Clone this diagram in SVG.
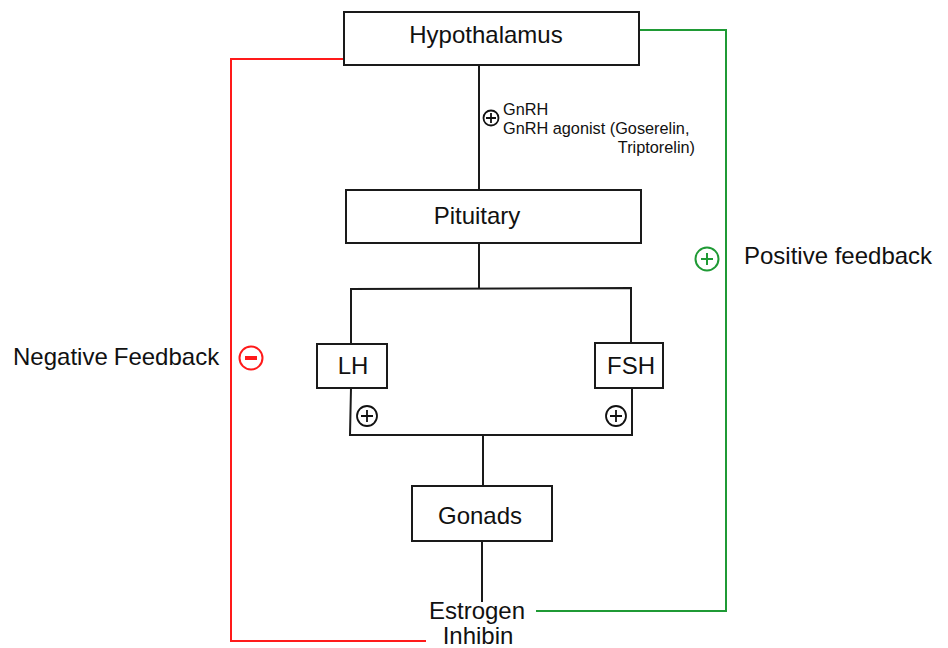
<svg xmlns="http://www.w3.org/2000/svg" width="948" height="648" viewBox="0 0 948 648">
<style>
.box{fill:#fff;stroke:#1a1a1a;stroke-width:2}
.ln{fill:none;stroke:#1a1a1a;stroke-width:2}
.red{fill:none;stroke:#ff1a1a;stroke-width:2}
.grn{fill:none;stroke:#1f9a35;stroke-width:2}
.t{font-family:"Liberation Sans",Arial,sans-serif;font-size:24px;fill:#111;text-anchor:middle}
.l{font-family:"Liberation Sans",Arial,sans-serif;font-size:24px;fill:#111;text-anchor:start}
.s{font-family:"Liberation Sans",Arial,sans-serif;font-size:16.3px;fill:#111}
.e{text-anchor:end}
</style>
<rect width="948" height="648" fill="#fff"/>
<g id="connectors">
<path class="ln" d="M479 65 V190"/>
<path class="ln" d="M479 243 V288"/>
<path class="ln" d="M351 344 V289 L631 288 V343"/>
<path class="ln" d="M351 388 L350 435 H632 V388"/>
<path class="ln" d="M483 435 V486"/>
<path class="ln" d="M482 541 V602"/>
<path class="red" d="M343 59 H231 V641 H426"/>
<path class="grn" d="M639 30 H726 V611 H536"/>
</g>
<g id="gnrh-label">
<circle cx="491" cy="118" r="7.5" fill="none" stroke="#111" stroke-width="1.8"/>
<path d="M486 118 H496 M491 113 V123" stroke="#111" stroke-width="1.8"/>
<text class="s" x="503" y="115">GnRH</text>
<text class="s" x="503" y="134">GnRH agonist (Goserelin,</text>
<text class="s e" x="695" y="153">Triptorelin)</text>
</g>
<g id="hypothalamus">
<rect class="box" x="344" y="12" width="295" height="53"/>
<text class="t" x="486" y="43">Hypothalamus</text>
</g>
<g id="pituitary">
<rect class="box" x="346" y="190" width="295" height="53"/>
<text class="t" x="477" y="224">Pituitary</text>
</g>
<g id="lh">
<rect class="box" x="317" y="344" width="70" height="44"/>
<text class="t" x="353" y="374">LH</text>
<circle cx="367" cy="416" r="10" fill="none" stroke="#111" stroke-width="1.8"/>
<path d="M361 416 H373 M367 410 V422" stroke="#111" stroke-width="1.8"/>
</g>
<g id="fsh">
<rect class="box" x="595" y="343" width="68" height="45"/>
<text class="t" x="631" y="374">FSH</text>
<circle cx="616" cy="416" r="10" fill="none" stroke="#111" stroke-width="1.8"/>
<path d="M610 416 H622 M616 410 V422" stroke="#111" stroke-width="1.8"/>
</g>
<g id="gonads">
<rect class="box" x="412" y="486" width="140" height="55"/>
<text class="t" x="480" y="524">Gonads</text>
</g>
<g id="hormones">
<text class="t" x="477" y="619">Estrogen</text>
<text class="t" x="478" y="644">Inhibin</text>
</g>
<g id="negative-feedback">
<text class="l" x="13" y="365">Negative<tspan dx="6">Feedback</tspan></text>
<circle cx="251" cy="358" r="11.5" fill="none" stroke="#ff1a1a" stroke-width="2"/>
<path d="M245 358 H257" stroke="#ff1a1a" stroke-width="4"/>
</g>
<g id="positive-feedback">
<circle cx="707" cy="259" r="11.5" fill="none" stroke="#1f9a35" stroke-width="2"/>
<path d="M701 259 H713 M707 253 V265" stroke="#1f9a35" stroke-width="2"/>
<text class="l" x="744" y="264">Positive feedback</text>
</g>
</svg>
